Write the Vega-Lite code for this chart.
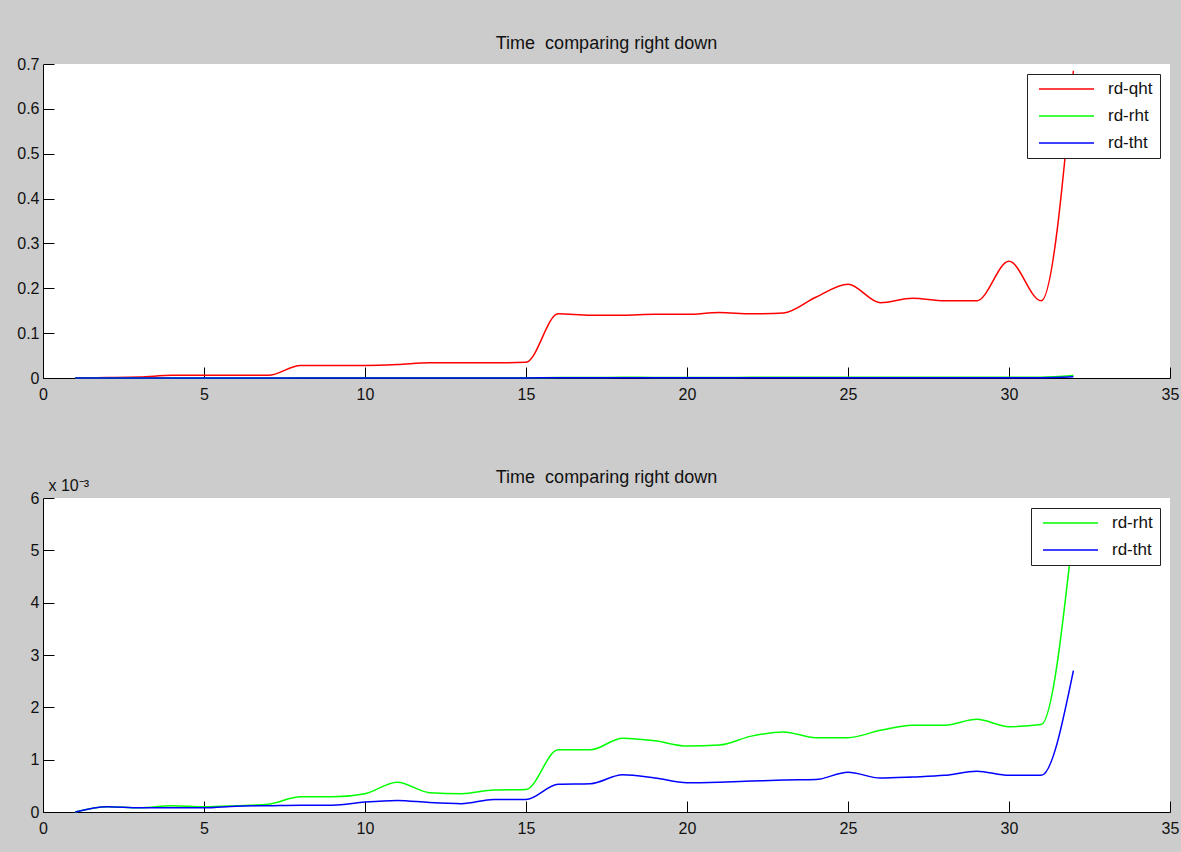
{
  "$schema": "https://vega.github.io/schema/vega-lite/v6.json",
  "background": "#cccccc",
  "padding": {"left": 16, "top": 35, "right": 3, "bottom": 17},
  "spacing": 120,
  "bounds": "flush",
  "resolve": {"scale": {"color": "independent"}, "legend": {"color": "independent"}},
  "config": {
    "view": {"fill": "white", "stroke": null},
    "font": "Liberation Sans",
    "axis": {
      "domainColor": "black",
      "tickColor": "black",
      "tickSize": -11,
      "labelFont": "Liberation Sans",
      "labelFontSize": 16,
      "labelColor": "#111111",
      "labelFlush": false,
      "grid": false,
      "domainWidth": 1,
      "tickWidth": 1
    },
    "axisX": {"labelPadding": 19},
    "axisY": {"labelPadding": 15},
    "title": {
      "font": "Liberation Sans",
      "fontSize": 18,
      "fontWeight": "normal",
      "color": "#111111",
      "frame": "group",
      "anchor": "middle",
      "baseline": "alphabetic"
    },
    "legend": {
      "orient": "top-right",
      "offset": 10,
      "strokeColor": "#222222",
      "fillColor": "white",
      "padding": 7,
      "symbolType": "stroke",
      "symbolSize": 3025,
      "symbolStrokeWidth": 1.5,
      "symbolOffset": 4,
      "clipHeight": 16,
      "labelFont": "Liberation Sans",
      "labelFontSize": 17,
      "labelColor": "#111111",
      "labelOffset": 13,
      "rowPadding": 10
    }
  },
  "datasets": {
    "times": [
      {"x": 1, "series": "rd-qht", "t": 0.0005},
      {"x": 2, "series": "rd-qht", "t": 0.001},
      {"x": 3, "series": "rd-qht", "t": 0.002},
      {"x": 4, "series": "rd-qht", "t": 0.006},
      {"x": 5, "series": "rd-qht", "t": 0.006},
      {"x": 6, "series": "rd-qht", "t": 0.006},
      {"x": 7, "series": "rd-qht", "t": 0.006},
      {"x": 8, "series": "rd-qht", "t": 0.028},
      {"x": 9, "series": "rd-qht", "t": 0.028},
      {"x": 10, "series": "rd-qht", "t": 0.028},
      {"x": 11, "series": "rd-qht", "t": 0.030},
      {"x": 12, "series": "rd-qht", "t": 0.034},
      {"x": 13, "series": "rd-qht", "t": 0.034},
      {"x": 14, "series": "rd-qht", "t": 0.034},
      {"x": 15, "series": "rd-qht", "t": 0.035},
      {"x": 16, "series": "rd-qht", "t": 0.143},
      {"x": 17, "series": "rd-qht", "t": 0.140},
      {"x": 18, "series": "rd-qht", "t": 0.140},
      {"x": 19, "series": "rd-qht", "t": 0.142},
      {"x": 20, "series": "rd-qht", "t": 0.142},
      {"x": 21, "series": "rd-qht", "t": 0.146},
      {"x": 22, "series": "rd-qht", "t": 0.143},
      {"x": 23, "series": "rd-qht", "t": 0.145},
      {"x": 24, "series": "rd-qht", "t": 0.180},
      {"x": 25, "series": "rd-qht", "t": 0.209},
      {"x": 26, "series": "rd-qht", "t": 0.168},
      {"x": 27, "series": "rd-qht", "t": 0.178},
      {"x": 28, "series": "rd-qht", "t": 0.172},
      {"x": 29, "series": "rd-qht", "t": 0.172},
      {"x": 30, "series": "rd-qht", "t": 0.260},
      {"x": 31, "series": "rd-qht", "t": 0.172},
      {"x": 32, "series": "rd-qht", "t": 0.685},
      {"x": 1, "series": "rd-rht", "t": 0.0},
      {"x": 2, "series": "rd-rht", "t": 0.00010},
      {"x": 3, "series": "rd-rht", "t": 0.00008},
      {"x": 4, "series": "rd-rht", "t": 0.00012},
      {"x": 5, "series": "rd-rht", "t": 0.00010},
      {"x": 6, "series": "rd-rht", "t": 0.00012},
      {"x": 7, "series": "rd-rht", "t": 0.00015},
      {"x": 8, "series": "rd-rht", "t": 0.00029},
      {"x": 9, "series": "rd-rht", "t": 0.00029},
      {"x": 10, "series": "rd-rht", "t": 0.00035},
      {"x": 11, "series": "rd-rht", "t": 0.00057},
      {"x": 12, "series": "rd-rht", "t": 0.00037},
      {"x": 13, "series": "rd-rht", "t": 0.00035},
      {"x": 14, "series": "rd-rht", "t": 0.00042},
      {"x": 15, "series": "rd-rht", "t": 0.00043},
      {"x": 16, "series": "rd-rht", "t": 0.00119},
      {"x": 17, "series": "rd-rht", "t": 0.00119},
      {"x": 18, "series": "rd-rht", "t": 0.00141},
      {"x": 19, "series": "rd-rht", "t": 0.00136},
      {"x": 20, "series": "rd-rht", "t": 0.00126},
      {"x": 21, "series": "rd-rht", "t": 0.00128},
      {"x": 22, "series": "rd-rht", "t": 0.00145},
      {"x": 23, "series": "rd-rht", "t": 0.00153},
      {"x": 24, "series": "rd-rht", "t": 0.00142},
      {"x": 25, "series": "rd-rht", "t": 0.00142},
      {"x": 26, "series": "rd-rht", "t": 0.00156},
      {"x": 27, "series": "rd-rht", "t": 0.00166},
      {"x": 28, "series": "rd-rht", "t": 0.00166},
      {"x": 29, "series": "rd-rht", "t": 0.00177},
      {"x": 30, "series": "rd-rht", "t": 0.00163},
      {"x": 31, "series": "rd-rht", "t": 0.00167},
      {"x": 32, "series": "rd-rht", "t": 0.00540},
      {"x": 1, "series": "rd-tht", "t": 0.0},
      {"x": 2, "series": "rd-tht", "t": 0.00010},
      {"x": 3, "series": "rd-tht", "t": 0.00008},
      {"x": 4, "series": "rd-tht", "t": 0.00008},
      {"x": 5, "series": "rd-tht", "t": 0.00008},
      {"x": 6, "series": "rd-tht", "t": 0.00011},
      {"x": 7, "series": "rd-tht", "t": 0.00012},
      {"x": 8, "series": "rd-tht", "t": 0.00013},
      {"x": 9, "series": "rd-tht", "t": 0.00013},
      {"x": 10, "series": "rd-tht", "t": 0.00019},
      {"x": 11, "series": "rd-tht", "t": 0.00022},
      {"x": 12, "series": "rd-tht", "t": 0.00018},
      {"x": 13, "series": "rd-tht", "t": 0.00016},
      {"x": 14, "series": "rd-tht", "t": 0.00024},
      {"x": 15, "series": "rd-tht", "t": 0.00024},
      {"x": 16, "series": "rd-tht", "t": 0.00053},
      {"x": 17, "series": "rd-tht", "t": 0.00054},
      {"x": 18, "series": "rd-tht", "t": 0.00071},
      {"x": 19, "series": "rd-tht", "t": 0.00065},
      {"x": 20, "series": "rd-tht", "t": 0.00056},
      {"x": 21, "series": "rd-tht", "t": 0.00057},
      {"x": 22, "series": "rd-tht", "t": 0.00059},
      {"x": 23, "series": "rd-tht", "t": 0.00061},
      {"x": 24, "series": "rd-tht", "t": 0.00062},
      {"x": 25, "series": "rd-tht", "t": 0.00076},
      {"x": 26, "series": "rd-tht", "t": 0.00065},
      {"x": 27, "series": "rd-tht", "t": 0.00067},
      {"x": 28, "series": "rd-tht", "t": 0.00070},
      {"x": 29, "series": "rd-tht", "t": 0.00078},
      {"x": 30, "series": "rd-tht", "t": 0.00070},
      {"x": 31, "series": "rd-tht", "t": 0.00070},
      {"x": 32, "series": "rd-tht", "t": 0.00270}
    ]
  },
  "vconcat": [
    {
      "width": 1127,
      "height": 314,
      "title": {"text": "Time \u00a0comparing right down", "offset": 3},
      "data": {"name": "times"},
      "mark": {"type": "line", "interpolate": "monotone", "strokeWidth": 1.5},
      "encoding": {
        "x": {
          "field": "x", "type": "quantitative",
          "scale": {"domain": [0, 35], "nice": false, "zero": false},
          "axis": {"title": null, "values": [0, 5, 10, 15, 20, 25, 30, 35], "format": "d"}
        },
        "y": {
          "field": "t", "type": "quantitative",
          "scale": {"domain": [0, 0.7], "nice": false},
          "axis": {"title": null, "values": [0, 0.1, 0.2, 0.3, 0.4, 0.5, 0.6, 0.7], "format": ".1~f"}
        },
        "color": {
          "field": "series", "type": "nominal",
          "scale": {"domain": ["rd-qht", "rd-rht", "rd-tht"], "range": ["#ff0000", "#00ff00", "#0000ff"]},
          "legend": {"title": null}
        }
      }
    },
    {
      "width": 1127,
      "height": 314,
      "title": {"text": "Time \u00a0comparing right down", "offset": -10},
      "data": {"name": "times"},
      "transform": [{"filter": "datum.series !== 'rd-qht'"}],
      "mark": {"type": "line", "interpolate": "monotone", "strokeWidth": 1.5},
      "encoding": {
        "x": {
          "field": "x", "type": "quantitative",
          "scale": {"domain": [0, 35], "nice": false, "zero": false},
          "axis": {"title": null, "values": [0, 5, 10, 15, 20, 25, 30, 35], "format": "d"}
        },
        "y": {
          "field": "t", "type": "quantitative",
          "scale": {"domain": [0, 0.006], "nice": false},
          "axis": {
            "title": "x 10\u207b\u00b3",
            "titleAngle": 0,
            "titleAlign": "left",
            "titleBaseline": "alphabetic",
            "titleX": 5,
            "titleY": -8,
            "titleFont": "Liberation Sans",
            "titleFontSize": 16,
            "titleFontWeight": "normal",
            "titleColor": "#111111",
            "values": [0, 0.001, 0.002, 0.003, 0.004, 0.005, 0.006],
            "labelExpr": "format(datum.value * 1000, '.0f')"
          }
        },
        "color": {
          "field": "series", "type": "nominal",
          "scale": {"domain": ["rd-rht", "rd-tht"], "range": ["#00ff00", "#0000ff"]},
          "legend": {"title": null}
        }
      }
    }
  ]
}
